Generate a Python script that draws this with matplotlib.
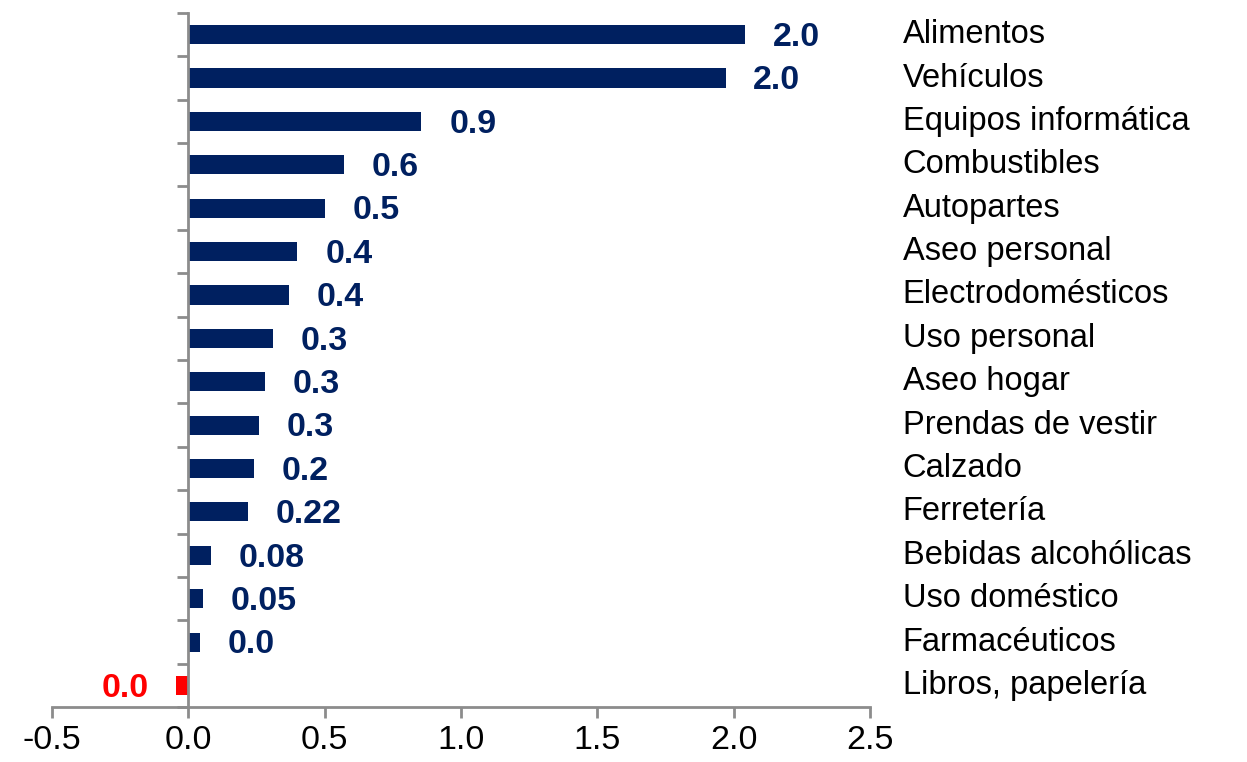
import numpy as np
import matplotlib.pyplot as plt

plt.rcParams['font.family'] = ['Liberation Sans', 'DejaVu Sans']

categories = ['Alimentos', 'Vehículos', 'Equipos informática', 'Combustibles',
              'Autopartes', 'Aseo personal', 'Electrodomésticos', 'Uso personal',
              'Aseo hogar', 'Prendas de vestir', 'Calzado', 'Ferretería',
              'Bebidas alcohólicas', 'Uso doméstico', 'Farmacéuticos',
              'Libros, papelería']
values = [2.04, 1.97, 0.855, 0.57, 0.50, 0.40, 0.37, 0.31, 0.28, 0.26,
          0.24, 0.22, 0.084, 0.055, 0.044, -0.044]
value_labels = ['2.0', '2.0', '0.9', '0.6', '0.5', '0.4', '0.4', '0.3', '0.3',
                '0.3', '0.2', '0.22', '0.08', '0.05', '0.0', '0.0']

navy = '#002060'
red = '#FF0000'
grey = '#8C8C8C'

fig = plt.figure(figsize=(12.47, 7.62), dpi=100)
ax = fig.add_axes([0.0417, 0.072, 0.656, 0.911])

n = len(categories)
y = np.arange(n)[::-1]
colors = [red if v < 0 else navy for v in values]
ax.barh(y, values, height=0.44, color=colors)

ax.set_xlim(-0.5, 2.5)
ax.set_ylim(-0.5, n - 0.5)
xt = np.arange(-0.5, 2.51, 0.5)
ax.set_xticks(xt)
ax.set_xticklabels(['%.1f' % t for t in xt], fontsize=24.5)
ax.set_yticks(np.arange(-0.5, n, 1.0))
ax.set_yticklabels([])

for s in ['top', 'right']:
    ax.spines[s].set_visible(False)
ax.spines['left'].set_position(('data', 0))
for s in ['left', 'bottom']:
    ax.spines[s].set_color(grey)
    ax.spines[s].set_linewidth(2)
ax.tick_params(axis='both', color=grey, width=2, length=8)
ax.tick_params(axis='x', pad=5)

for yi, v, lab, c in zip(y, values, value_labels, colors):
    if v >= 0:
        ax.annotate(lab, (v, yi), xytext=(20, -2), textcoords='offset points',
                    ha='left', va='center', fontsize=24.5, fontweight='bold',
                    color=c, annotation_clip=False)
    else:
        ax.annotate(lab, (v, yi), xytext=(-20, -2), textcoords='offset points',
                    ha='right', va='center', fontsize=24.5, fontweight='bold',
                    color=c, annotation_clip=False)

for yi, cat in zip(y, categories):
    ax.text(1.04, yi, cat, transform=ax.get_yaxis_transform(),
            ha='left', va='center', fontsize=23.5, color='black')

fig.savefig('out.png', dpi=100)
